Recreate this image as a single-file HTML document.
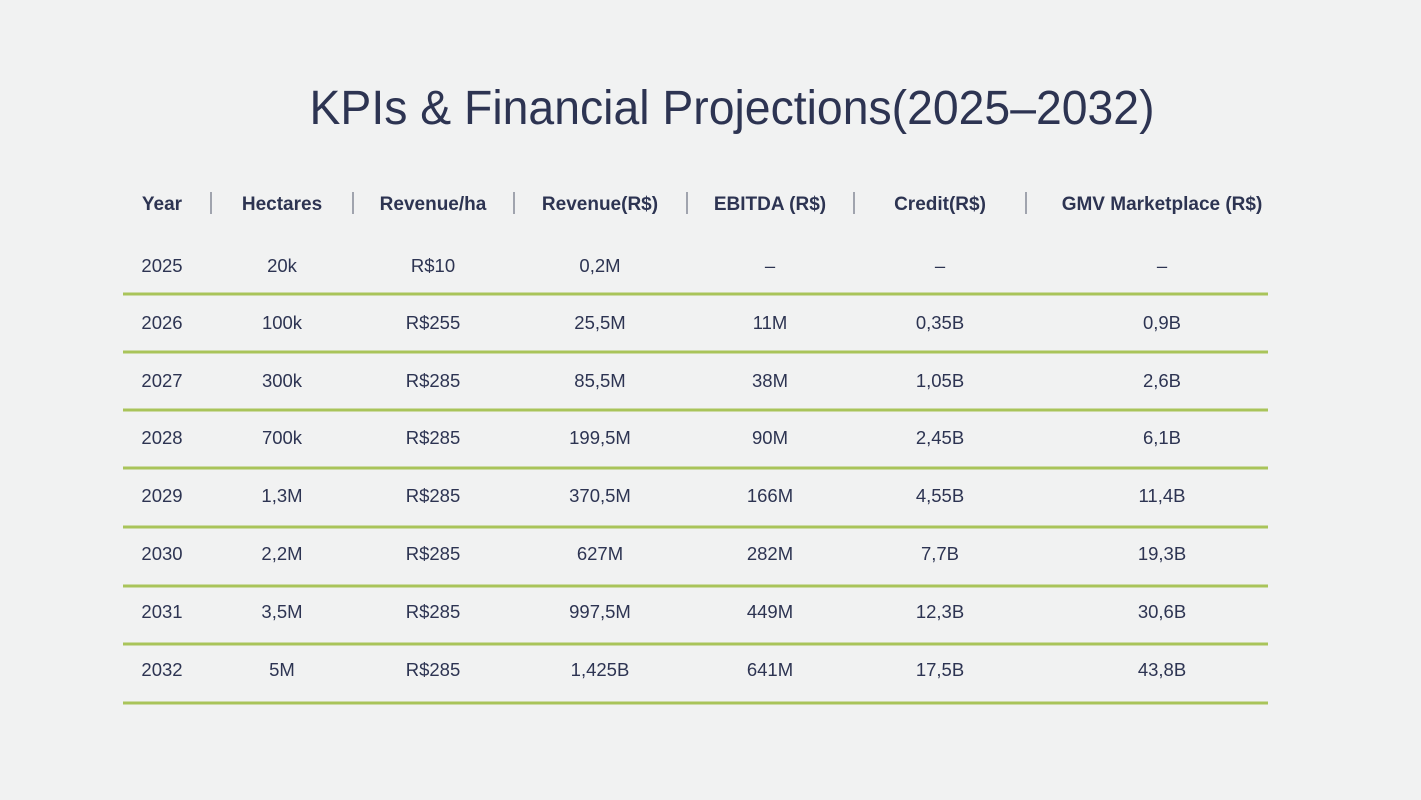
<!DOCTYPE html>
<html><head><meta charset="utf-8"><style>
html,body{margin:0;padding:0;background:#f1f2f2;}
svg{display:block}
text{font-family:"Liberation Sans",sans-serif;fill:#2d3452}
.h{font-weight:bold;font-size:19px}
.d{font-size:18.5px}
</style></head><body>
<svg width="1421" height="800" viewBox="0 0 1421 800">
<rect width="1421" height="800" fill="#f1f2f2"/>
<text x="732" y="124" text-anchor="middle" font-size="48" textLength="845" lengthAdjust="spacingAndGlyphs">KPIs &amp; Financial Projections(2025–2032)</text>
<g text-anchor="middle">
<text class="h" x="162" y="210">Year</text>
<text class="h" x="282" y="210">Hectares</text>
<text class="h" x="433" y="210">Revenue/ha</text>
<text class="h" x="600" y="210">Revenue(R$)</text>
<text class="h" x="770" y="210">EBITDA (R$)</text>
<text class="h" x="940" y="210">Credit(R$)</text>
<text class="h" x="1162" y="210">GMV Marketplace (R$)</text>
</g>
<g stroke="#6b7080" stroke-width="1.2">
<line x1="211" y1="192" x2="211" y2="214"/><line x1="353" y1="192" x2="353" y2="214"/>
<line x1="514" y1="192" x2="514" y2="214"/><line x1="687" y1="192" x2="687" y2="214"/>
<line x1="854" y1="192" x2="854" y2="214"/><line x1="1026" y1="192" x2="1026" y2="214"/>
</g>
<g stroke="#a9c45a" stroke-width="3">
<line x1="123" y1="294" x2="1268" y2="294"/><line x1="123" y1="352" x2="1268" y2="352"/>
<line x1="123" y1="410" x2="1268" y2="410"/><line x1="123" y1="468" x2="1268" y2="468"/>
<line x1="123" y1="527" x2="1268" y2="527"/><line x1="123" y1="586" x2="1268" y2="586"/>
<line x1="123" y1="644" x2="1268" y2="644"/><line x1="123" y1="703" x2="1268" y2="703"/>
</g>
<g text-anchor="middle">
<text class="d" x="162" y="272">2025</text><text class="d" x="282" y="272">20k</text><text class="d" x="433" y="272">R$10</text><text class="d" x="600" y="272">0,2M</text><text class="d" x="770" y="272">–</text><text class="d" x="940" y="272">–</text><text class="d" x="1162" y="272">–</text>
<text class="d" x="162" y="329">2026</text><text class="d" x="282" y="329">100k</text><text class="d" x="433" y="329">R$255</text><text class="d" x="600" y="329">25,5M</text><text class="d" x="770" y="329">11M</text><text class="d" x="940" y="329">0,35B</text><text class="d" x="1162" y="329">0,9B</text>
<text class="d" x="162" y="387">2027</text><text class="d" x="282" y="387">300k</text><text class="d" x="433" y="387">R$285</text><text class="d" x="600" y="387">85,5M</text><text class="d" x="770" y="387">38M</text><text class="d" x="940" y="387">1,05B</text><text class="d" x="1162" y="387">2,6B</text>
<text class="d" x="162" y="444">2028</text><text class="d" x="282" y="444">700k</text><text class="d" x="433" y="444">R$285</text><text class="d" x="600" y="444">199,5M</text><text class="d" x="770" y="444">90M</text><text class="d" x="940" y="444">2,45B</text><text class="d" x="1162" y="444">6,1B</text>
<text class="d" x="162" y="502">2029</text><text class="d" x="282" y="502">1,3M</text><text class="d" x="433" y="502">R$285</text><text class="d" x="600" y="502">370,5M</text><text class="d" x="770" y="502">166M</text><text class="d" x="940" y="502">4,55B</text><text class="d" x="1162" y="502">11,4B</text>
<text class="d" x="162" y="560">2030</text><text class="d" x="282" y="560">2,2M</text><text class="d" x="433" y="560">R$285</text><text class="d" x="600" y="560">627M</text><text class="d" x="770" y="560">282M</text><text class="d" x="940" y="560">7,7B</text><text class="d" x="1162" y="560">19,3B</text>
<text class="d" x="162" y="618">2031</text><text class="d" x="282" y="618">3,5M</text><text class="d" x="433" y="618">R$285</text><text class="d" x="600" y="618">997,5M</text><text class="d" x="770" y="618">449M</text><text class="d" x="940" y="618">12,3B</text><text class="d" x="1162" y="618">30,6B</text>
<text class="d" x="162" y="676">2032</text><text class="d" x="282" y="676">5M</text><text class="d" x="433" y="676">R$285</text><text class="d" x="600" y="676">1,425B</text><text class="d" x="770" y="676">641M</text><text class="d" x="940" y="676">17,5B</text><text class="d" x="1162" y="676">43,8B</text>
</g>
</svg>
</body></html>
